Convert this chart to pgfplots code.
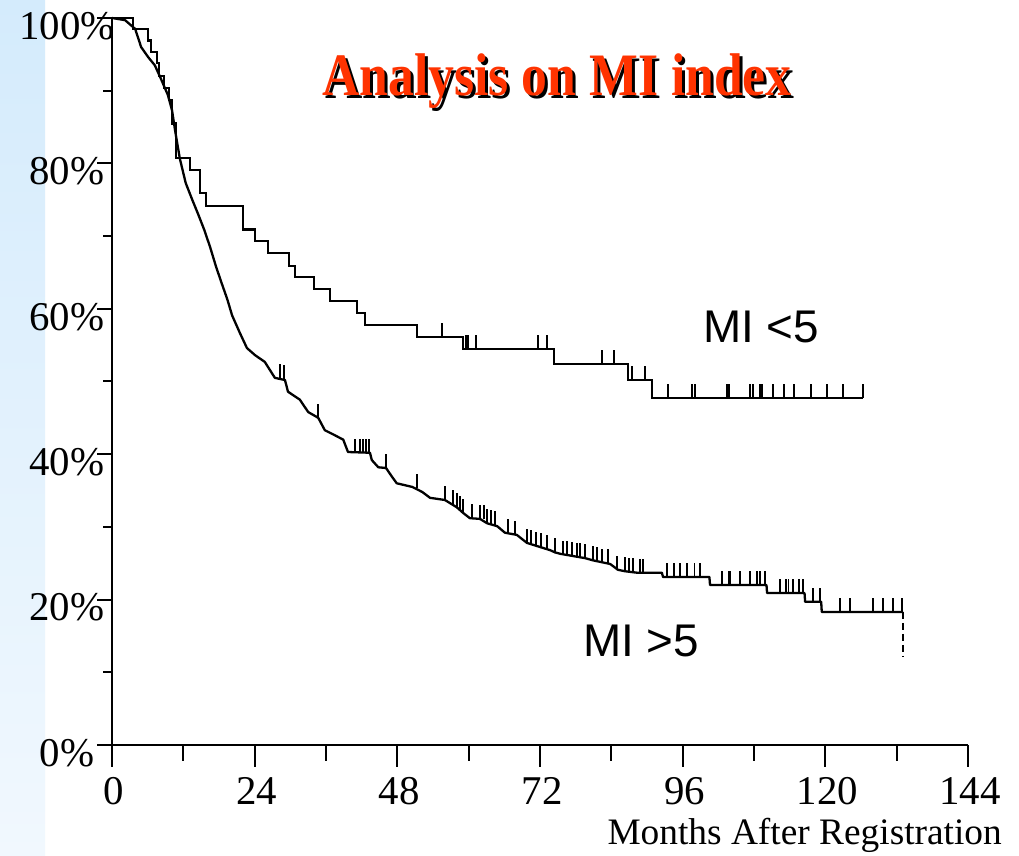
\documentclass[border=0pt]{standalone}
\usepackage{pgfplots}
\pgfplotsset{compat=1.18}
\usepackage{pgfplotstable}
\usepackage{fontspec}
\setmainfont{Liberation Serif}
\newfontfamily\arial{Liberation Sans}

\definecolor{titlered}{RGB}{255,51,0}
\definecolor{stripetop}{RGB}{212,235,252}
\definecolor{stripebot}{RGB}{241,248,254}

% censoring tick: short stroke pointing up from the curve
\pgfdeclareplotmark{cens}{%
  \pgfpathmoveto{\pgfpointorigin}%
  \pgfpathlineto{\pgfpoint{0pt}{14bp}}%
  \pgfusepathqstroke}

% MI <5 : step levels (month, survival %)
\pgfplotstableread{
m s
0 100
3.5 98.5
6.1 96.9
6.6 95.3
7.6 93.8
7.9 92.0
8.7 90.4
9.6 88.7
10.1 85.5
10.8 80.7
13.1 79.1
14.8 75.9
15.8 74.1
22.0 70.9
24.1 69.3
26.2 67.7
29.8 65.9
30.8 64.4
34.0 62.7
36.7 61.1
41.2 59.4
42.6 57.8
51.3 56.1
59.0 54.5
74.4 52.4
86.8 50.2
90.8 47.7
126.3 47.7
}\lowmi

\pgfplotstableread{
m s
55.5 56.1
59.6 54.5
59.9 54.5
61.2 54.5
71.7 54.5
73.2 54.5
82.4 52.4
84.5 52.4
87.5 50.2
89.7 50.2
93.5 47.7
97.6 47.7
98.1 47.7
103.5 47.7
103.8 47.7
107.3 47.7
107.8 47.7
109.0 47.7
109.4 47.7
111.2 47.7
113.0 47.7
114.7 47.7
117.6 47.7
120.3 47.7
123.0 47.7
126.3 47.7
}\lowcens

% MI >5
\pgfplotstableread{
m s
0 100
2.2 99.7
3.9 98.5
4.9 96.0
6.1 94.6
7.2 93.5
8.2 91.7
9.4 89.4
10.1 87.3
10.6 84.6
11.4 80.7
12.4 77.3
13.5 75.0
14.5 73.0
15.5 70.9
16.5 68.5
17.5 65.8
18.5 63.4
19.4 61.3
20.2 59.1
21.5 56.7
22.7 54.6
24.1 53.6
25.7 52.7
27.4 50.5
29.1 50.2
29.6 48.6
31.6 47.5
33.0 45.8
34.7 45.0
35.8 43.3
37.5 42.6
38.9 42.0
39.7 40.3
43.4 40.2
43.7 39.2
44.8 38.2
46.1 38.1
47.1 36.9
47.9 36.0
50.5 35.5
52.2 34.8
53.5 34.0
56.0 33.7
58.0 32.7
59.1 31.9
60.2 31.2
61.9 31.1
63.1 30.5
64.8 30.1
66.1 29.2
68.1 28.9
69.8 27.8
73.7 26.8
74.5 26.5
75.4 26.3
79.6 25.7
80.9 25.4
83.8 24.9
85.1 24.1
86.3 23.9
88.3 23.7
92.5 23.7
92.7 23.1
100.5 23.1
100.6 22.0
110.1 22.0
110.2 20.9
116.5 20.9
116.6 19.7
119.3 19.7
119.4 18.3
133.1 18.3
}\highmi

\pgfplotstableread{
m s
28.3 50.5
28.9 50.3
34.7 45.0
40.9 40.2
41.7 40.2
42.2 40.2
42.7 40.2
43.2 40.2
46.1 38.1
51.3 35.4
56.0 33.7
57.4 33.2
58.0 32.7
58.6 32.3
59.1 31.9
60.6 31.2
61.9 31.1
62.6 31.1
63.1 30.5
63.8 30.4
64.4 30.2
66.6 29.1
67.8 28.9
69.8 27.8
70.5 27.6
71.3 27.4
72.2 27.2
73.2 27.0
74.5 26.5
75.9 26.2
76.6 26.1
77.4 26.0
78.2 25.9
78.7 25.8
79.6 25.7
80.9 25.4
81.6 25.3
82.4 25.1
83.4 25.0
85.0 24.1
86.3 23.9
87.0 23.8
87.7 23.8
88.8 23.7
89.3 23.7
93.4 23.1
94.5 23.1
95.6 23.1
96.7 23.1
98.0 23.1
98.9 23.1
102.6 22.0
103.8 22.0
104.0 22.0
105.6 22.0
107.3 22.0
108.5 22.0
109.0 22.0
109.9 22.0
112.4 20.9
113.4 20.9
113.8 20.9
114.5 20.9
115.6 20.9
116.2 20.9
117.9 19.7
119.1 19.7
122.5 18.3
124.2 18.3
128.0 18.3
129.7 18.3
131.4 18.3
132.9 18.3
}\highcens

\pgfplotsset{
  kmaxis/.style={
    at={(112bp,111bp)}, anchor=south west,
    scale only axis, width=856bp, height=727bp,
    xmin=0, xmax=144, ymin=0, ymax=100,
    axis x line*=bottom, axis y line*=left,
    axis line style={-, line width=2.4bp},
    tick align=outside,
    tick style={line width=2bp, black},
    xticklabels={}, yticklabels={},
    clip=false,
  }
}

\begin{document}
\begin{tikzpicture}
  \path[use as bounding box] (0,0) rectangle (1019bp,856bp);
  \fill[white] (0,0) rectangle (1019bp,856bp);
  \shade[top color=stripetop, bottom color=stripebot] (0,0) rectangle (45bp,856bp);

  % y ticks
  \begin{axis}[kmaxis,
    xtick=\empty,
    ytick={0,20,...,100}, minor ytick={10,30,...,90},
    major tick length=15bp, minor tick length=9bp]
    \pgfplotsinvokeforeach{0,20,40,60,80,100}{
      \node[font=\fontsize{41}{41}\selectfont, inner sep=0pt, anchor=center,
            xshift=-45bp, yshift=-8bp] at (axis cs:0,#1) {#1\%};
    }
  \end{axis}

  % x ticks and the curves
  \begin{axis}[kmaxis,
    ytick=\empty,
    xtick={0,24,...,144}, minor xtick={12,36,...,132},
    major tick length=22bp, minor tick length=16bp]
    \pgfplotsinvokeforeach{0,24,48,72,96,120,144}{
      \node[font=\fontsize{41}{41}\selectfont, inner sep=0pt, anchor=north,
            xshift=2bp, yshift=-32bp] at (axis cs:#1,0) {#1};
    }
    \addplot[const plot, line width=2.3bp] table {\lowmi};
    \addplot[only marks, mark=cens, mark options={line width=1.8bp}] table {\lowcens};
    \addplot[line width=2.3bp, line join=round] table {\highmi};
    \addplot[only marks, mark=cens, mark options={line width=1.8bp}] table {\highcens};
    \addplot[line width=2bp, dash pattern=on 7bp off 4bp] coordinates {(133.1,18.3) (133.1,12.1)};
  \end{axis}

  % title with drop shadow
  \node[anchor=base, inner sep=0pt, text=black]
    at (560bp,757bp) {\fontsize{54}{54}\selectfont\bfseries\scalebox{0.96}[1.12]{Analysis on MI index}};
  \node[anchor=base, inner sep=0pt, text=titlered]
    at (557bp,760bp) {\fontsize{54}{54}\selectfont\bfseries\scalebox{0.96}[1.12]{Analysis on MI index}};

  \node[anchor=base west, inner sep=0pt, font=\arial\fontsize{46}{46}\selectfont]
    at (703bp,513bp) {MI <5};
  \node[anchor=base west, inner sep=0pt, font=\arial\fontsize{46}{46}\selectfont]
    at (583bp,199bp) {MI >5};

  \node[anchor=base east, inner sep=0pt, font=\fontsize{37.5}{37.5}\selectfont]
    at (1002bp,12bp) {Months After Registration};
\end{tikzpicture}
\end{document}
